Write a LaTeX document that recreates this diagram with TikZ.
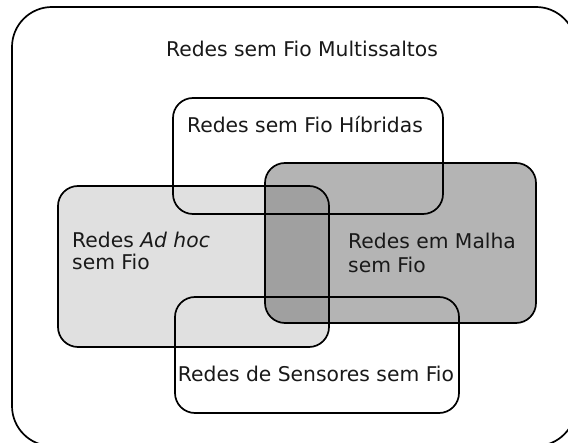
\documentclass[tikz,border=0pt]{standalone}
\usepackage{fontspec}
\setmainfont{DejaVu Sans}
\definecolor{adhocfill}{RGB}{224,224,224}
\definecolor{meshfill}{RGB}{180,180,180}
\definecolor{bothfill}{RGB}{160,160,160}
\begin{document}
\begin{tikzpicture}[x=1pt,y=-1pt,
  region/.style={rectangle, inner sep=0pt, outer sep=0pt, rounded corners=20pt, line width=1.7pt},
  outline/.style={draw=black, line width=1.7pt, rounded corners=20pt},
  lbl/.style={inner sep=0pt, text=black!90, font=\fontsize{20.3}{22}\selectfont}]
\useasboundingbox (0,0) rectangle (568,443);
\clip (0,0) rectangle (568,443);
\fill[white] (0,0) rectangle (568,443);
\node[region, draw, rounded corners=40pt, minimum width=564pt, minimum height=439pt] (outer) at (294,226.5) {};
\node[region, fill=adhocfill, minimum width=271pt, minimum height=161pt] (adhoc) at (193.5,266.5) {};
\node[region, fill=meshfill, minimum width=271pt, minimum height=160pt] (mesh) at (400.5,243) {};
\begin{scope}
  \clip[rounded corners=20pt] (adhoc.north west) rectangle (adhoc.south east);
  \fill[bothfill, rounded corners=20pt] (mesh.north west) rectangle (mesh.south east);
\end{scope}
\node[region, draw, minimum width=270pt, minimum height=116pt] (hybrid) at (308,156) {};
\node[region, draw, minimum width=284pt, minimum height=116pt] (sensor) at (317,355) {};
\draw[outline] (adhoc.north west) rectangle (adhoc.south east);
\draw[outline] (mesh.north west) rectangle (mesh.south east);
\node[lbl, anchor=base] (tmulti) at (302,57) {Redes sem Fio Multissaltos};
\node[lbl, anchor=base] (thybrid) at (305,133) {Redes sem Fio Híbridas};
\node[lbl, anchor=base west, align=left, font=\fontsize{20.3}{22}\selectfont] (tadhoc) at (72,270) {Redes \textit{Ad hoc}\\sem Fio};
\node[lbl, anchor=base west, align=left, font=\fontsize{20.3}{24}\selectfont] (tmesh) at (348,273) {Redes em Malha\\sem Fio};
\node[lbl, anchor=base] (tsensor) at (316,382) {Redes de Sensores sem Fio};
\end{tikzpicture}
\end{document}
